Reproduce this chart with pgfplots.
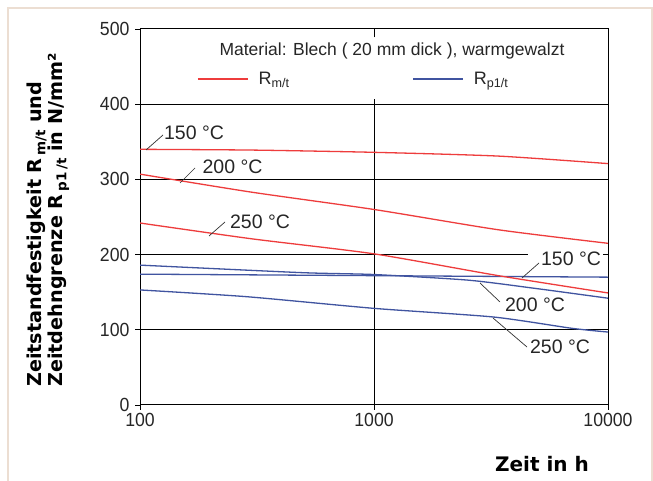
\documentclass[border=0pt]{standalone}
\usepackage{fontspec}
\setmainfont{Liberation Sans}
\newfontfamily\tickfont[FakeStretch=0.93]{Liberation Sans}
\newfontfamily\titlefont{DejaVu Sans}
\usepackage{pgfplots}
\pgfplotsset{compat=1.18}
\definecolor{rmred}{RGB}{238,60,60}
\definecolor{rpblue}{RGB}{64,84,160}
\definecolor{framebeige}{RGB}{236,222,210}

% values (time in h, strength in N/mm^2)
\pgfplotstableread{
t     r150  r200  r250
100   340   307   242
300   339   283   221
1000  336   260   201
3400  331   233   172
10000 321   215   149
}\rmdata
\pgfplotstableread{
t     p150
100   174
1000  172
10000 170
}\rpa
\pgfplotstableread{
t     p200
100   186
491   176
1000  173.5
2530  166
4900  155
10000 142
}\rpb
\pgfplotstableread{
t     p250
100   153
286   144
1000  128.5
3240  117
7000  102
10000 97
}\rpc

\newcommand\sub[1]{\raisebox{-0.22em}{\fontsize{13.5}{13.5}\selectfont #1}}

\begin{document}
\begin{tikzpicture}
\useasboundingbox (0,0) rectangle (653pt,481pt);
\fill[white] (0,0) rectangle (653pt,481pt);
\draw[framebeige, line width=2.2pt] (8.3pt,-10pt) -- (8.3pt,472.7pt) -- (651.9pt,472.7pt) -- (651.9pt,-10pt);

\begin{axis}[
  at={(140pt,76pt)}, anchor=south west,
  width=468pt, height=376pt, scale only axis,
  xmode=log, xmin=100, xmax=10000, ymin=0, ymax=500,
  xtick={100,1000,10000}, xticklabels={\mbox{100},\mbox{1000},\mbox{10000}},
  ytick={0,100,...,500},
  yticklabel={\mbox{\pgfmathprintnumber{\tick}}},
  /pgf/number format/assume math mode=true,
  xminorticks=false,
  tick align=outside, major tick length=5pt,
  xtick pos=bottom, ytick pos=left,
  tick style={black, line width=0.8pt},
  axis line style={black, line width=1pt},
  tick label style={font=\tickfont\fontsize{19}{19}\selectfont, text=black!85},
  yticklabel style={xshift=-2pt},
  xticklabel style={yshift=0pt},
  legend columns=2,
  legend image code/.code={\draw[#1] (0pt,0pt) -- (50pt,0pt); \path (58pt,0pt);},
  legend style={at={(axis description cs:0.1218,0.867)}, anchor=west,
    draw=none, fill=none, inner xsep=0pt,
    font=\fontsize{18}{18}\selectfont, text=black!85,
    /tikz/every even column/.append style={column sep=121pt}},
  every axis plot/.append style={line width=1.3pt, smooth, tension=0.4},
]
% grid
\draw[black, line width=1pt] (axis cs:100,100) -- (axis cs:10000,100);
\draw[black, line width=1pt] (axis cs:100,200) -- (axis cs:4550,200);
\draw[black, line width=1pt] (axis cs:100,300) -- (axis cs:10000,300);
\draw[black, line width=1pt] (axis cs:100,400) -- (axis cs:10000,400);
\draw[black, line width=1pt] (axis cs:1000,0) -- (axis cs:1000,407);
\draw[black, line width=1pt] (axis cs:1000,489) -- (axis cs:1000,500);
\draw[black, line width=0.8pt] (axis cs:10000,200) -- ++(-5pt,0pt);

\addplot[rmred] table[x=t, y=r150] {\rmdata};
\addlegendentry{R\textsubscript{m/t}}
\addplot[rpblue] table[x=t, y=p150] {\rpa};
\addlegendentry{R\textsubscript{p1/t}}
\addplot[rmred, forget plot] table[x=t, y=r200] {\rmdata};
\addplot[rmred, forget plot] table[x=t, y=r250] {\rmdata};
\addplot[rpblue, forget plot] table[x=t, y=p200] {\rpb};
\addplot[rpblue, forget plot] table[x=t, y=p250] {\rpc};
\end{axis}

% legend heading
\node[font=\fontsize{17.5}{17.5}\selectfont, text=black!85] at (392pt,430pt) {Material: Blech ( 20 mm dick ), warmgewalzt};

% curve labels with leader lines
\begin{scope}[font=\fontsize{19.5}{19.5}\selectfont, text=black!85]
\node at (194pt,348pt) {150 °C};
\node at (232.5pt,314pt) {200 °C};
\node at (260pt,259.3pt) {250 °C};
\node at (571pt,222pt) {150 °C};
\node at (535pt,176pt) {200 °C};
\node at (560pt,134pt) {250 °C};
\end{scope}
\begin{scope}[black!80, line width=0.7pt]
\draw (146pt,331pt) -- (163pt,346pt);
\draw (180pt,298pt) -- (195pt,313pt);
\draw (209pt,245pt) -- (225pt,259pt);
\draw (522pt,203pt) -- (539pt,218pt);
\draw (480pt,198pt) -- (500pt,179pt);
\draw (493pt,163pt) -- (527pt,134pt);
\end{scope}

% axis titles
\node[rotate=90, anchor=north west, inner sep=0pt, align=left,
  font=\titlefont\bfseries\fontsize{19.2}{15.7}\selectfont]
  at (26.3pt,94pt) {Zeitstandfestigkeit R\,\sub{m/t} und\\Zeitdehngrenze R\,\sub{p1\,/t} in N/mm²};
\node[font=\titlefont\bfseries\fontsize{20}{20}\selectfont] at (542pt,16.5pt) {Zeit in h};
\end{tikzpicture}
\end{document}
